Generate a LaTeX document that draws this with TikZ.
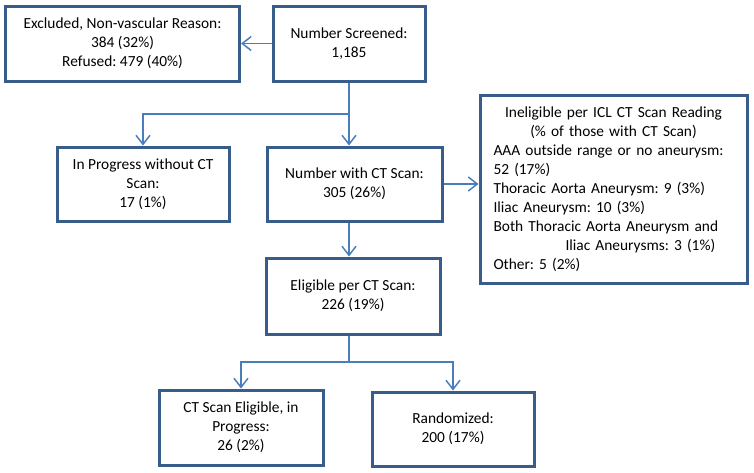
\documentclass[tikz,border=0pt]{standalone}
\usepackage{fontspec}
\setmainfont{Carlito}
\usetikzlibrary{arrows.meta}
\definecolor{boxblue}{HTML}{385D8A}
\definecolor{lineblue}{HTML}{4A7EBB}
\frenchspacing

\begin{document}
\begin{tikzpicture}[x=1pt, y=-1pt,
      box/.style={draw=boxblue, line width=3pt, align=center, inner sep=0pt,
         font=\fontsize{15.4}{19}\selectfont},
      link/.style={draw=lineblue, line width=1.5pt, -{Straight Barb[length=9pt, width=14pt]}},
      plain/.style={draw=lineblue, line width=1.5pt}]
   \useasboundingbox (0, 0) rectangle (754, 472);
   \node[box, minimum width=234, minimum height=75] (excl) at (122.5, 43.5)
      {Excluded, Non-vascular Reason:\\384 (32\%)\\Refused: 479 (40\%)};
   \node[box, minimum width=152, minimum height=75] (screen) at (349, 43.5)
      {Number Screened:\\1,185};
   \node[box, minimum width=172, minimum height=74] (inprog) at (143, 184)
      {In Progress without CT\\Scan:\\17 (1\%)};
   \node[box, minimum width=175, minimum height=74] (withct) at (354.5, 184)
      {Number with CT Scan:\\305 (26\%)};
   \node[box, minimum width=267, minimum height=188, align=left, text width=240] (inelig) at (613.5, 189)
      {\makebox[240pt]{Ineligible per ICL CT Scan Reading}\\
       \makebox[240pt]{(\% of those with CT Scan)}\\
       AAA outside range or no aneurysm:\\
       52 (17\%)\\
       Thoracic Aorta Aneurysm: 9 (3\%)\\
       Iliac Aneurysm: 10 (3\%)\\
       Both Thoracic Aorta Aneurysm and\\
       \hspace*{72pt}Iliac Aneurysms: 3 (1\%)\\
       Other: 5 (2\%)};
   \node[box, minimum width=174, minimum height=76] (elig) at (353, 296)
      {Eligible per CT Scan:\\226 (19\%)};
   \node[box, minimum width=164, minimum height=75] (ctelig) at (241, 427.5)
      {CT Scan Eligible, in\\Progress:\\26 (2\%)};
   \node[box, minimum width=162, minimum height=74] (rand) at (453, 429)
      {Randomized:\\200 (17\%)};
   \coordinate (top) at (349, 114);
   \coordinate (bot) at (349, 362);
   \draw[link] (screen.west) -- (excl.east);
   \draw[link] (screen.south) -- (screen.south |- withct.north);
   \draw[link] (top) -| (inprog.north);
   \draw[link] (withct.east) -- (withct.east -| inelig.west);
   \draw[link] (withct.south -| top) -- (elig.north -| top);
   \draw[plain] (elig.south -| bot) -- (bot);
   \draw[link] (bot) -| (ctelig.north);
   \draw[link] (bot) -| (rand.north);
\end{tikzpicture}
\end{document}
